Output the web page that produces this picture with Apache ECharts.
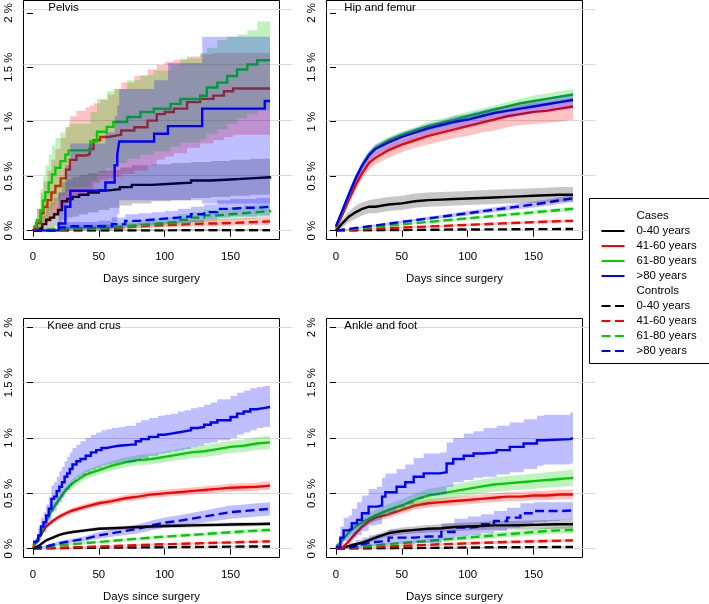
<!DOCTYPE html>
<html><head><meta charset="utf-8">
<script src="https://cdn.jsdelivr.net/npm/echarts@6/dist/echarts.min.js"></script>
<style>html,body{margin:0;padding:0;background:#fff}#c{width:709px;height:604px}</style>
</head><body><div id="c"></div>
<script>
// ---------------- DATA ----------------
const panelTitles = ['Pelvis', 'Hip and femur', 'Knee and crus', 'Ankle and foot'];
const groupNames = ['0-40 years', '41-60 years', '61-80 years', '>80 years'];
const xTicks = [0, 50, 100, 150];
const yTicks = [0, 0.5, 1, 1.5, 2];
const dayGrid = [0,5,10,15,20,25,30,40,50,60,70,80,90,100,110,120,130,140,150,160,170,180];

// Pelvis – cases
const pelvisCase0040Days = [0,5,7,10,13,16,19,22,26,30,35,42,50,58,66,75,90,105,120,135,150,165,180];
const pelvisCase0040 = [0,0.02,0.06,0.1,0.12,0.15,0.19,0.27,0.29,0.31,0.33,0.35,0.37,0.38,0.40,0.42,0.43,0.44,0.46,0.47,0.48,0.49,0.50];
const pelvisCase0040Lo = [0,0,0,0.01,0.02,0.04,0.06,0.1,0.12,0.13,0.15,0.17,0.19,0.21,0.23,0.25,0.27,0.28,0.3,0.31,0.32,0.33,0.34];
const pelvisCase0040Hi = [0,0.06,0.14,0.22,0.26,0.3,0.35,0.45,0.47,0.49,0.51,0.53,0.55,0.56,0.58,0.6,0.61,0.62,0.63,0.64,0.65,0.66,0.67];
const pelvisCase4160Days = [0,1,3,6,8,11,14,17,21,25,28,33,40,43,46,51,57,62,67,77,87,94,100,107,117,127,137,145,152,180];
const pelvisCase4160 = [0,0.02,0.07,0.16,0.22,0.28,0.35,0.41,0.48,0.56,0.65,0.69,0.70,0.75,0.83,0.86,0.87,0.88,0.92,0.95,1.01,1.07,1.09,1.12,1.18,1.21,1.24,1.28,1.305,1.305];
const pelvisCase4160Lo = [0,0,0,0.02,0.05,0.08,0.12,0.16,0.2,0.25,0.3,0.33,0.35,0.38,0.44,0.47,0.48,0.49,0.52,0.55,0.6,0.65,0.68,0.71,0.76,0.8,0.83,0.86,0.88,0.9];
const pelvisCase4160Hi = [0,0.08,0.2,0.35,0.45,0.55,0.65,0.75,0.85,0.95,1.05,1.1,1.13,1.15,1.17,1.2,1.25,1.3,1.36,1.42,1.48,1.52,1.55,1.57,1.6,1.62,1.63,1.63,1.63,1.63];
const pelvisCase6180Days = [0,2,3,5.6,7.6,9.4,11.9,14.4,17,20.8,24.6,27,41.6,43.6,48.6,56,61,71.5,81.6,91.7,104.4,112,127,132,140,147.5,155,162.7,170.3,180];
const pelvisCase6180 = [0.036,0.036,0.096,0.186,0.277,0.352,0.442,0.517,0.577,0.638,0.698,0.737,0.737,0.818,0.908,0.953,0.998,1.044,1.089,1.119,1.164,1.209,1.239,1.314,1.359,1.42,1.48,1.525,1.564,1.564];
const pelvisCase6180Lo = [0,0,0.01,0.04,0.08,0.12,0.18,0.23,0.27,0.32,0.36,0.4,0.4,0.46,0.53,0.57,0.62,0.66,0.7,0.73,0.77,0.81,0.84,0.89,0.93,0.98,1.03,1.07,1.1,1.1];
const pelvisCase6180Hi = [0.05,0.12,0.2,0.38,0.5,0.6,0.7,0.78,0.85,0.9,0.95,0.98,0.98,1.09,1.21,1.28,1.3,1.38,1.43,1.47,1.52,1.58,1.63,1.68,1.75,1.78,1.8,1.84,1.92,1.93];
const pelvisCase80Days = [0,19.5,24.6,28.4,55,62,64,65.5,92,102.5,128.5,176,180];
const pelvisCase80 = [0,0.066,0.22,0.367,0.442,0.6,0.7,0.818,0.89,0.96,1.12,1.19,1.19];
const pelvisCase80Lo = [0,0,0,0.02,0.03,0.08,0.15,0.28,0.28,0.28,0.25,0.25,0.25];
const pelvisCase80Hi = [0,0.35,0.6,0.8,0.9,1.05,1.15,1.3,1.38,1.54,1.78,1.78,1.78];
// Pelvis – controls
const pelvisCtl0040 = [0,0,0,0,0,0.001,0.001,0.001,0.002,0.002,0.002,0.002,0.002,0.003,0.003,0.003,0.003,0.003,0.003,0.003,0.003,0.003];
const pelvisCtl0040Lo = [0,0,0,0,0,0,0,0,0,0,0,0,0,0,0,0,0,0,0,0,0,0];
const pelvisCtl0040Hi = [0,0.004,0.005,0.006,0.007,0.008,0.009,0.01,0.011,0.012,0.012,0.012,0.013,0.013,0.014,0.014,0.014,0.014,0.015,0.015,0.015,0.015];
const pelvisCtl4160 = [0,0.003,0.005,0.008,0.01,0.012,0.015,0.02,0.025,0.03,0.04,0.045,0.05,0.055,0.06,0.065,0.066,0.07,0.075,0.08,0.085,0.088];
const pelvisCtl4160Lo = [0,0,0.001,0.002,0.003,0.004,0.006,0.009,0.012,0.015,0.022,0.025,0.028,0.032,0.036,0.04,0.041,0.044,0.047,0.05,0.053,0.055];
const pelvisCtl4160Hi = [0,0.01,0.015,0.02,0.025,0.03,0.035,0.04,0.048,0.055,0.065,0.072,0.078,0.085,0.09,0.097,0.1,0.105,0.11,0.115,0.12,0.125];
const pelvisCtl6180 = [0,0.005,0.01,0.012,0.015,0.018,0.02,0.02,0.03,0.04,0.05,0.06,0.07,0.08,0.1,0.12,0.14,0.15,0.16,0.17,0.18,0.19];
const pelvisCtl6180Lo = [0,0,0,0,0,0.002,0.003,0.003,0.008,0.013,0.02,0.027,0.033,0.04,0.055,0.07,0.085,0.095,0.1,0.11,0.12,0.13];
const pelvisCtl6180Hi = [0,0.02,0.03,0.035,0.04,0.045,0.05,0.05,0.06,0.075,0.085,0.1,0.11,0.125,0.15,0.17,0.19,0.2,0.215,0.23,0.24,0.25];
const pelvisCtl80 = [0,0,0,0,0.03,0.04,0.04,0.04,0.04,0.06,0.09,0.1,0.11,0.12,0.13,0.15,0.17,0.2,0.21,0.21,0.22,0.22];
const pelvisCtl80Lo = [0,0,0,0,0.005,0.01,0.01,0.01,0.01,0.02,0.04,0.05,0.055,0.06,0.07,0.08,0.1,0.12,0.13,0.13,0.14,0.14];
const pelvisCtl80Hi = [0,0,0,0,0.07,0.08,0.08,0.08,0.09,0.12,0.15,0.16,0.17,0.18,0.2,0.22,0.24,0.28,0.29,0.29,0.3,0.3];

// Hip and femur – cases (on dayGrid)
const hipCase0040 = [0,0.07,0.13,0.17,0.2,0.22,0.22,0.24,0.25,0.27,0.28,0.285,0.29,0.295,0.3,0.305,0.31,0.315,0.32,0.325,0.33,0.33];
const hipCase0040Lo = [0,0.03,0.08,0.11,0.14,0.16,0.16,0.18,0.19,0.21,0.22,0.225,0.23,0.235,0.24,0.245,0.25,0.25,0.255,0.26,0.265,0.265];
const hipCase0040Hi = [0.01,0.11,0.18,0.23,0.26,0.28,0.29,0.31,0.32,0.34,0.35,0.355,0.36,0.365,0.37,0.375,0.38,0.385,0.39,0.395,0.4,0.4];
const hipCase4160 = [0.02,0.15,0.29,0.42,0.53,0.62,0.67,0.74,0.79,0.83,0.87,0.9,0.93,0.96,0.99,1.02,1.05,1.07,1.09,1.1,1.12,1.14];
const hipCase4160Lo = [0.01,0.12,0.25,0.37,0.48,0.56,0.61,0.67,0.72,0.76,0.79,0.82,0.85,0.87,0.9,0.92,0.95,0.97,0.98,0.99,1.0,1.02];
const hipCase4160Hi = [0.03,0.18,0.33,0.46,0.57,0.67,0.72,0.79,0.84,0.88,0.93,0.96,0.99,1.02,1.06,1.09,1.12,1.15,1.17,1.18,1.2,1.22];
const hipCase6180 = [0.03,0.18,0.33,0.48,0.6,0.7,0.76,0.83,0.88,0.92,0.96,0.99,1.02,1.05,1.08,1.11,1.14,1.17,1.19,1.21,1.23,1.25];
const hipCase6180Lo = [0.02,0.16,0.3,0.45,0.57,0.67,0.73,0.8,0.85,0.89,0.92,0.95,0.98,1.01,1.04,1.07,1.1,1.12,1.14,1.16,1.18,1.2];
const hipCase6180Hi = [0.04,0.2,0.36,0.51,0.63,0.73,0.79,0.86,0.91,0.95,1.0,1.03,1.06,1.09,1.12,1.15,1.18,1.21,1.24,1.26,1.28,1.3];
const hipCase80 = [0.04,0.19,0.34,0.48,0.6,0.69,0.75,0.81,0.86,0.9,0.94,0.97,1.0,1.02,1.05,1.08,1.1,1.12,1.14,1.16,1.18,1.2];
const hipCase80Lo = [0.03,0.16,0.3,0.43,0.55,0.63,0.69,0.75,0.8,0.84,0.88,0.91,0.94,0.96,0.99,1.02,1.04,1.06,1.08,1.1,1.11,1.13];
const hipCase80Hi = [0.05,0.22,0.38,0.52,0.64,0.73,0.79,0.85,0.9,0.94,0.98,1.01,1.05,1.07,1.1,1.13,1.15,1.18,1.2,1.22,1.24,1.26];
// Hip and femur – controls
const hipCtl0040 = [0,0.001,0.002,0.002,0.003,0.003,0.004,0.005,0.006,0.007,0.008,0.009,0.01,0.01,0.011,0.012,0.012,0.013,0.014,0.014,0.015,0.015];
const hipCtl0040Lo = [0,0,0,0,0.001,0.001,0.002,0.003,0.004,0.005,0.006,0.007,0.008,0.008,0.009,0.01,0.01,0.011,0.011,0.012,0.012,0.012];
const hipCtl0040Hi = [0,0.002,0.004,0.004,0.005,0.005,0.006,0.007,0.008,0.009,0.01,0.011,0.012,0.012,0.013,0.014,0.014,0.015,0.016,0.016,0.018,0.018];
const hipCtl4160 = [0,0.003,0.006,0.009,0.012,0.015,0.018,0.023,0.028,0.033,0.038,0.043,0.048,0.053,0.058,0.063,0.068,0.073,0.078,0.083,0.087,0.09];
const hipCtl4160Lo = [0,0.001,0.003,0.005,0.008,0.01,0.012,0.017,0.021,0.025,0.03,0.034,0.039,0.043,0.047,0.052,0.056,0.061,0.065,0.069,0.073,0.076];
const hipCtl4160Hi = [0,0.005,0.009,0.013,0.017,0.02,0.024,0.03,0.035,0.041,0.047,0.052,0.058,0.063,0.069,0.074,0.08,0.085,0.091,0.097,0.101,0.104];
const hipCtl6180 = [0,0.006,0.012,0.018,0.024,0.03,0.036,0.047,0.058,0.069,0.08,0.091,0.102,0.113,0.124,0.135,0.146,0.157,0.168,0.179,0.19,0.2];
const hipCtl6180Lo = [0,0.004,0.009,0.014,0.019,0.024,0.03,0.04,0.05,0.06,0.07,0.08,0.09,0.1,0.111,0.121,0.131,0.141,0.151,0.161,0.171,0.18];
const hipCtl6180Hi = [0,0.008,0.015,0.022,0.029,0.036,0.042,0.054,0.066,0.078,0.09,0.102,0.114,0.126,0.137,0.149,0.161,0.173,0.185,0.197,0.209,0.22];
const hipCtl80 = [0,0.008,0.016,0.024,0.032,0.04,0.048,0.064,0.08,0.096,0.112,0.128,0.144,0.16,0.176,0.192,0.208,0.224,0.24,0.258,0.278,0.298];
const hipCtl80Lo = [0,0.005,0.012,0.019,0.026,0.033,0.04,0.054,0.068,0.083,0.097,0.112,0.126,0.14,0.155,0.17,0.184,0.199,0.213,0.229,0.248,0.266];
const hipCtl80Hi = [0,0.011,0.02,0.029,0.038,0.047,0.056,0.074,0.092,0.109,0.127,0.144,0.162,0.18,0.197,0.214,0.232,0.249,0.267,0.287,0.308,0.33];

// Knee and crus – cases
const kneeCase0040 = [0,0.03,0.075,0.1,0.125,0.14,0.15,0.165,0.18,0.185,0.19,0.195,0.2,0.205,0.207,0.21,0.213,0.215,0.218,0.22,0.222,0.225];
const kneeCase0040Lo = [0,0.022,0.063,0.087,0.111,0.126,0.135,0.15,0.164,0.169,0.174,0.178,0.183,0.188,0.19,0.192,0.195,0.197,0.2,0.201,0.203,0.206];
const kneeCase0040Hi = [0,0.038,0.087,0.113,0.139,0.154,0.165,0.18,0.196,0.201,0.206,0.212,0.217,0.222,0.224,0.228,0.231,0.233,0.236,0.239,0.241,0.244];
const kneeCase4160 = [0.01,0.11,0.2,0.25,0.29,0.32,0.345,0.38,0.41,0.43,0.455,0.47,0.49,0.5,0.51,0.52,0.53,0.54,0.55,0.555,0.56,0.57];
const kneeCase4160Lo = [0.005,0.095,0.182,0.23,0.268,0.297,0.32,0.354,0.383,0.402,0.426,0.44,0.459,0.468,0.477,0.487,0.496,0.505,0.514,0.518,0.523,0.532];
const kneeCase4160Hi = [0.015,0.125,0.218,0.27,0.312,0.343,0.37,0.406,0.437,0.458,0.484,0.5,0.521,0.532,0.543,0.553,0.564,0.575,0.586,0.592,0.597,0.608];
const kneeCase6180 = [0.03,0.11,0.25,0.36,0.45,0.53,0.59,0.67,0.71,0.75,0.78,0.8,0.81,0.83,0.85,0.87,0.88,0.9,0.92,0.93,0.95,0.96];
const kneeCase6180Lo = [0.02,0.095,0.225,0.33,0.418,0.495,0.553,0.63,0.669,0.707,0.735,0.754,0.763,0.781,0.799,0.818,0.826,0.845,0.864,0.873,0.891,0.9];
const kneeCase6180Hi = [0.04,0.125,0.275,0.39,0.482,0.565,0.627,0.71,0.751,0.793,0.825,0.846,0.857,0.879,0.901,0.922,0.934,0.955,0.976,0.987,1.009,1.02];
const kneeCase80Days = [0,2,4,6,8,10,12,14,16,18,20,22,24,26,28,30,33,36,40,44,48,52,56,60,65,70,75,78,82,88,95,100,105,110,115,120,125,130,135,140,145,150,155,160,165,170,175,180];
const kneeCase80 = [0.06,0.07,0.12,0.2,0.24,0.3,0.36,0.45,0.47,0.52,0.56,0.6,0.65,0.68,0.72,0.76,0.79,0.81,0.84,0.87,0.89,0.91,0.92,0.93,0.935,0.94,0.94,0.97,0.99,1.01,1.03,1.04,1.05,1.06,1.07,1.09,1.1,1.12,1.14,1.16,1.16,1.19,1.22,1.24,1.26,1.27,1.28,1.28];
const kneeCase80Lo = [0.04,0.04,0.07,0.12,0.15,0.2,0.25,0.33,0.34,0.39,0.42,0.46,0.51,0.53,0.57,0.61,0.64,0.66,0.69,0.71,0.73,0.75,0.76,0.77,0.78,0.78,0.78,0.8,0.82,0.84,0.86,0.87,0.88,0.89,0.9,0.92,0.93,0.95,0.96,0.98,0.98,1.0,1.03,1.05,1.07,1.09,1.1,1.1];
const kneeCase80Hi = [0.08,0.1,0.18,0.28,0.33,0.4,0.47,0.57,0.6,0.65,0.7,0.74,0.79,0.83,0.87,0.91,0.94,0.97,1.0,1.03,1.05,1.07,1.08,1.09,1.1,1.11,1.11,1.14,1.16,1.18,1.2,1.21,1.22,1.24,1.25,1.27,1.28,1.3,1.32,1.35,1.35,1.38,1.41,1.43,1.45,1.46,1.47,1.47];
// Knee and crus – controls
const kneeCtl0040 = [0,0.001,0.002,0.003,0.004,0.005,0.006,0.007,0.008,0.009,0.01,0.011,0.012,0.013,0.014,0.015,0.016,0.017,0.018,0.019,0.02,0.02];
const kneeCtl0040Lo = [0,0,0,0,0.001,0.002,0.002,0.003,0.004,0.005,0.006,0.007,0.007,0.008,0.009,0.01,0.011,0.012,0.013,0.013,0.014,0.014];
const kneeCtl0040Hi = [0,0.002,0.004,0.006,0.007,0.008,0.01,0.011,0.012,0.013,0.014,0.015,0.017,0.018,0.019,0.02,0.021,0.022,0.023,0.025,0.026,0.026];
const kneeCtl4160 = [0,0.002,0.004,0.006,0.008,0.01,0.012,0.016,0.02,0.024,0.028,0.032,0.036,0.04,0.043,0.046,0.05,0.053,0.056,0.06,0.063,0.066];
const kneeCtl4160Lo = [0,0.001,0.002,0.003,0.005,0.006,0.008,0.011,0.014,0.018,0.021,0.024,0.028,0.031,0.034,0.037,0.04,0.043,0.046,0.049,0.052,0.055];
const kneeCtl4160Hi = [0,0.003,0.006,0.009,0.011,0.014,0.016,0.021,0.026,0.03,0.035,0.04,0.044,0.049,0.052,0.055,0.06,0.063,0.066,0.071,0.074,0.077];
const kneeCtl6180 = [0,0.01,0.02,0.025,0.03,0.035,0.04,0.05,0.06,0.07,0.08,0.09,0.1,0.108,0.116,0.124,0.132,0.14,0.148,0.156,0.163,0.17];
const kneeCtl6180Lo = [0,0.006,0.014,0.019,0.023,0.028,0.032,0.041,0.05,0.059,0.068,0.077,0.087,0.094,0.102,0.109,0.117,0.124,0.131,0.138,0.145,0.151];
const kneeCtl6180Hi = [0,0.014,0.026,0.031,0.037,0.042,0.048,0.059,0.07,0.081,0.092,0.103,0.113,0.122,0.13,0.139,0.147,0.156,0.165,0.174,0.181,0.189];
const kneeCtl80 = [0,0.01,0.02,0.035,0.05,0.06,0.07,0.09,0.12,0.14,0.16,0.18,0.21,0.235,0.25,0.27,0.29,0.31,0.33,0.34,0.35,0.36];
const kneeCtl80Lo = [0,0.003,0.01,0.022,0.033,0.042,0.05,0.066,0.09,0.107,0.124,0.14,0.166,0.188,0.2,0.218,0.236,0.253,0.27,0.28,0.29,0.3];
const kneeCtl80Hi = [0,0.017,0.03,0.048,0.067,0.078,0.09,0.114,0.15,0.173,0.196,0.22,0.254,0.282,0.3,0.322,0.344,0.367,0.39,0.4,0.41,0.42];

// Ankle and foot – cases
const ankleCase0040 = [0,0.01,0.025,0.04,0.055,0.075,0.1,0.14,0.16,0.17,0.18,0.185,0.195,0.2,0.205,0.21,0.21,0.212,0.215,0.218,0.22,0.22];
const ankleCase0040Lo = [0,0.004,0.015,0.026,0.038,0.054,0.075,0.11,0.128,0.137,0.146,0.15,0.159,0.163,0.167,0.171,0.171,0.172,0.175,0.177,0.179,0.179];
const ankleCase0040Hi = [0,0.016,0.035,0.054,0.072,0.096,0.125,0.17,0.192,0.203,0.214,0.22,0.231,0.237,0.243,0.249,0.249,0.252,0.255,0.259,0.261,0.261];
const ankleCase4160 = [0,0.01,0.07,0.14,0.2,0.25,0.28,0.31,0.35,0.39,0.41,0.42,0.43,0.44,0.45,0.46,0.47,0.47,0.48,0.48,0.49,0.49];
const ankleCase4160Lo = [0,0.003,0.05,0.115,0.172,0.22,0.248,0.277,0.315,0.354,0.373,0.383,0.392,0.401,0.41,0.419,0.428,0.428,0.437,0.437,0.446,0.446];
const ankleCase4160Hi = [0,0.017,0.09,0.165,0.228,0.28,0.312,0.343,0.385,0.426,0.447,0.457,0.468,0.479,0.49,0.501,0.512,0.512,0.523,0.523,0.534,0.534];
const ankleCase6180 = [0.015,0.08,0.15,0.2,0.24,0.27,0.3,0.35,0.39,0.44,0.48,0.5,0.52,0.54,0.56,0.58,0.59,0.6,0.61,0.62,0.63,0.64];
const ankleCase6180Lo = [0.005,0.05,0.11,0.155,0.193,0.222,0.25,0.297,0.335,0.383,0.421,0.44,0.459,0.477,0.496,0.515,0.524,0.533,0.542,0.55,0.559,0.568];
const ankleCase6180Hi = [0.025,0.11,0.19,0.245,0.287,0.318,0.35,0.403,0.445,0.497,0.539,0.56,0.581,0.603,0.624,0.645,0.656,0.667,0.678,0.69,0.701,0.712];
const ankleCase80Days = [0,3.3,5.8,9.6,12,16,19.7,24.8,31,35,37.5,46,52.6,59,66.6,79,84,89,97,104.5,112,122,132,142.5,152.6,157.7,178,180];
const ankleCase80 = [0.015,0.1,0.165,0.18,0.23,0.26,0.32,0.38,0.39,0.47,0.51,0.56,0.6,0.65,0.68,0.69,0.77,0.81,0.84,0.86,0.87,0.89,0.92,0.95,0.98,0.99,1.0,1.0];
const ankleCase80Lo = [0,0.03,0.07,0.08,0.1,0.12,0.16,0.21,0.22,0.29,0.32,0.37,0.4,0.45,0.48,0.49,0.56,0.6,0.62,0.64,0.65,0.67,0.69,0.72,0.75,0.76,0.77,0.77];
const ankleCase80Hi = [0.04,0.2,0.28,0.3,0.36,0.42,0.48,0.54,0.56,0.64,0.68,0.72,0.76,0.82,0.86,0.87,0.96,1.0,1.04,1.06,1.09,1.11,1.14,1.17,1.2,1.21,1.23,1.24];
// Ankle and foot – controls
const ankleCtl0040 = [0,0,0.001,0.001,0.002,0.002,0.003,0.004,0.005,0.006,0.007,0.008,0.009,0.01,0.011,0.012,0.012,0.013,0.014,0.014,0.015,0.015];
const ankleCtl0040Lo = [0,0,0,0,0,0,0,0.001,0.001,0.002,0.002,0.003,0.004,0.005,0.006,0.006,0.006,0.007,0.008,0.008,0.009,0.009];
const ankleCtl0040Hi = [0,0.002,0.003,0.004,0.005,0.006,0.007,0.008,0.009,0.01,0.012,0.013,0.014,0.015,0.016,0.018,0.018,0.019,0.02,0.02,0.021,0.021];
const ankleCtl4160 = [0,0.003,0.006,0.008,0.01,0.012,0.015,0.02,0.025,0.03,0.035,0.04,0.044,0.048,0.052,0.056,0.06,0.063,0.066,0.069,0.072,0.075];
const ankleCtl4160Lo = [0,0.001,0.002,0.004,0.005,0.007,0.009,0.013,0.017,0.021,0.025,0.029,0.033,0.036,0.04,0.043,0.047,0.05,0.052,0.055,0.058,0.06];
const ankleCtl4160Hi = [0,0.005,0.01,0.012,0.015,0.017,0.021,0.027,0.033,0.039,0.045,0.051,0.055,0.06,0.064,0.069,0.073,0.076,0.08,0.083,0.086,0.09];
const ankleCtl6180 = [0,0.005,0.01,0.015,0.02,0.025,0.03,0.04,0.05,0.06,0.07,0.08,0.09,0.1,0.11,0.12,0.13,0.14,0.15,0.16,0.165,0.17];
const ankleCtl6180Lo = [0,0.002,0.005,0.008,0.012,0.015,0.019,0.027,0.035,0.044,0.052,0.061,0.07,0.078,0.087,0.096,0.104,0.113,0.122,0.13,0.134,0.138];
const ankleCtl6180Hi = [0,0.008,0.015,0.022,0.028,0.035,0.041,0.053,0.065,0.076,0.088,0.099,0.11,0.122,0.133,0.144,0.156,0.167,0.178,0.19,0.196,0.202];
const ankleCtl80 = [0,0.01,0.02,0.04,0.05,0.06,0.07,0.1,0.1,0.11,0.11,0.15,0.19,0.2,0.22,0.25,0.28,0.32,0.34,0.34,0.345,0.345];
const ankleCtl80Lo = [0,0,0.003,0.012,0.018,0.023,0.028,0.045,0.045,0.05,0.05,0.08,0.11,0.12,0.14,0.16,0.19,0.22,0.24,0.25,0.26,0.26];
const ankleCtl80Hi = [0,0.03,0.05,0.08,0.1,0.12,0.13,0.17,0.17,0.18,0.18,0.23,0.27,0.29,0.31,0.34,0.37,0.41,0.42,0.42,0.42,0.42];

// ---------------- BUILD ----------------
function S(days, val, lo, hi, step) { return { days: days, val: val, lo: lo, hi: hi, step: step }; }
const panelData = [
  { controls: [S(dayGrid, pelvisCtl0040, pelvisCtl0040Lo, pelvisCtl0040Hi, true), S(dayGrid, pelvisCtl4160, pelvisCtl4160Lo, pelvisCtl4160Hi, true), S(dayGrid, pelvisCtl6180, pelvisCtl6180Lo, pelvisCtl6180Hi, true), S(dayGrid, pelvisCtl80, pelvisCtl80Lo, pelvisCtl80Hi, true)],
    cases: [S(pelvisCase0040Days, pelvisCase0040, pelvisCase0040Lo, pelvisCase0040Hi, true), S(pelvisCase4160Days, pelvisCase4160, pelvisCase4160Lo, pelvisCase4160Hi, true), S(pelvisCase6180Days, pelvisCase6180, pelvisCase6180Lo, pelvisCase6180Hi, true), S(pelvisCase80Days, pelvisCase80, pelvisCase80Lo, pelvisCase80Hi, true)] },
  { controls: [S(dayGrid, hipCtl0040, hipCtl0040Lo, hipCtl0040Hi, false), S(dayGrid, hipCtl4160, hipCtl4160Lo, hipCtl4160Hi, false), S(dayGrid, hipCtl6180, hipCtl6180Lo, hipCtl6180Hi, false), S(dayGrid, hipCtl80, hipCtl80Lo, hipCtl80Hi, false)],
    cases: [S(dayGrid, hipCase0040, hipCase0040Lo, hipCase0040Hi, false), S(dayGrid, hipCase4160, hipCase4160Lo, hipCase4160Hi, false), S(dayGrid, hipCase6180, hipCase6180Lo, hipCase6180Hi, false), S(dayGrid, hipCase80, hipCase80Lo, hipCase80Hi, false)] },
  { controls: [S(dayGrid, kneeCtl0040, kneeCtl0040Lo, kneeCtl0040Hi, false), S(dayGrid, kneeCtl4160, kneeCtl4160Lo, kneeCtl4160Hi, false), S(dayGrid, kneeCtl6180, kneeCtl6180Lo, kneeCtl6180Hi, false), S(dayGrid, kneeCtl80, kneeCtl80Lo, kneeCtl80Hi, false)],
    cases: [S(dayGrid, kneeCase0040, kneeCase0040Lo, kneeCase0040Hi, false), S(dayGrid, kneeCase4160, kneeCase4160Lo, kneeCase4160Hi, false), S(dayGrid, kneeCase6180, kneeCase6180Lo, kneeCase6180Hi, false), S(kneeCase80Days, kneeCase80, kneeCase80Lo, kneeCase80Hi, true)] },
  { controls: [S(dayGrid, ankleCtl0040, ankleCtl0040Lo, ankleCtl0040Hi, false), S(dayGrid, ankleCtl4160, ankleCtl4160Lo, ankleCtl4160Hi, false), S(dayGrid, ankleCtl6180, ankleCtl6180Lo, ankleCtl6180Hi, false), S(dayGrid, ankleCtl80, ankleCtl80Lo, ankleCtl80Hi, true)],
    cases: [S(dayGrid, ankleCase0040, ankleCase0040Lo, ankleCase0040Hi, false), S(dayGrid, ankleCase4160, ankleCase4160Lo, ankleCase4160Hi, false), S(dayGrid, ankleCase6180, ankleCase6180Lo, ankleCase6180Hi, false), S(ankleCase80Days, ankleCase80, ankleCase80Lo, ankleCase80Hi, true)] }
];

const FONT = '"Liberation Sans", Arial, Helvetica, sans-serif';
const FS = 11.4;
const lineColors = ['#000000', '#ff0000', '#00cd00', '#0000ff'];
const bandColors = ['rgba(0,0,0,0.22)', 'rgba(255,0,0,0.24)', 'rgba(0,205,0,0.25)', 'rgba(0,0,255,0.25)'];
const layout = [
  { bl: 23.5, bt: 0.5, tx: 24.8 },
  { bl: 326.5, bt: 0.5, tx: 17.8 },
  { bl: 23.5, bt: 318.5, tx: 23.8 },
  { bl: 326.5, bt: 318.5, tx: 17.8 }
];
const BOXW = 256, BOXH = 239, XMIN = 0, XMAX = 180, YMIN = 0, YMAX = 2;
const XPAD = (XMAX - XMIN) * 0.04, YPAD = (YMAX - YMIN) * 0.04;

const grid = [], xAxis = [], yAxis = [], series = [], title = [];

function bandSeries(s, axisIdx, color) {
  return {
    type: 'custom', xAxisIndex: axisIdx, yAxisIndex: axisIdx, silent: true,
    data: [[s.days[0], s.val[0]]],
    renderItem: function (params, api) {
      const up = [], dn = [];
      for (let i = 0; i < s.days.length; i++) {
        if (s.step && i > 0) {
          up.push(api.coord([s.days[i], s.hi[i - 1]]));
          dn.push(api.coord([s.days[i], s.lo[i - 1]]));
        }
        up.push(api.coord([s.days[i], s.hi[i]]));
        dn.push(api.coord([s.days[i], s.lo[i]]));
      }
      return { type: 'polygon', shape: { points: up.concat(dn.reverse()) }, style: { fill: color } };
    }
  };
}
function lineSeries(s, axisIdx, name, color, dashed) {
  return {
    type: 'line', name: name, xAxisIndex: axisIdx, yAxisIndex: axisIdx, silent: true,
    data: s.days.map(function (d, i) { return [d, s.val[i]]; }),
    step: s.step ? 'end' : false, symbol: 'none', showSymbol: false,
    itemStyle: { color: color },
    lineStyle: { color: color, width: 2.4, type: dashed ? [9, 4.5] : 'solid', cap: 'butt', join: 'miter' }
  };
}
function addSeries(obj) { obj.z = 2 + series.length; series.push(obj); }

layout.forEach(function (L, p) {
  const sx = BOXW / (XMAX - XMIN + 2 * XPAD), sy = BOXH / (YMAX - YMIN + 2 * YPAD);
  const dl = L.bl + XPAD * sx, dw = (XMAX - XMIN) * sx;
  const dt = L.bt + YPAD * sy, dh = (YMAX - YMIN) * sy;
  const gi = grid.length;
  // gridline layer
  grid.push({ left: L.bl, top: dt, width: BOXW + 13, height: dh, show: false });
  xAxis.push({ gridIndex: gi, type: 'value', show: false, min: 0, max: 1 });
  yAxis.push({ gridIndex: gi, type: 'value', min: YMIN, max: YMAX, interval: 0.5,
    axisLine: { show: false }, axisTick: { show: false }, axisLabel: { show: false },
    splitLine: { show: true, lineStyle: { color: '#d9d9d9', width: 1 } } });
  // data layer
  grid.push({ left: dl, top: dt, width: dw, height: dh, show: false });
  xAxis.push({ gridIndex: gi + 1, type: 'value', min: XMIN, max: XMAX, interval: 50, position: 'bottom',
    offset: YPAD * sy,
    axisLine: { show: false },
    axisTick: { show: true, customValues: xTicks, length: 6, lineStyle: { color: '#000', width: 1 } },
    axisLabel: { customValues: xTicks, margin: 12, fontSize: FS, color: '#000', fontFamily: FONT },
    splitLine: { show: false },
    name: 'Days since surgery', nameLocation: 'middle', nameGap: 34,
    nameTextStyle: { fontSize: FS, color: '#000', fontFamily: FONT } });
  yAxis.push({ gridIndex: gi + 1, type: 'value', min: YMIN, max: YMAX, interval: 0.5, position: 'left',
    offset: XPAD * sx,
    axisLine: { show: false },
    axisTick: { show: true, customValues: yTicks, length: 6, lineStyle: { color: '#000', width: 1 } },
    axisLabel: { customValues: yTicks, rotate: 90, margin: 9, fontSize: FS, color: '#000', fontFamily: FONT,
      formatter: function (v) { return v + ' %'; } },
    splitLine: { show: false } });
  // box layer
  grid.push({ left: L.bl, top: L.bt, width: BOXW, height: BOXH, show: true, borderColor: '#000', borderWidth: 1, backgroundColor: 'transparent' });
  xAxis.push({ gridIndex: gi + 2, type: 'value', show: false, min: 0, max: 1 });
  yAxis.push({ gridIndex: gi + 2, type: 'value', show: false, min: 0, max: 1 });

  title.push({ text: panelTitles[p], left: L.bl + L.tx, top: L.bt + 2.3, padding: 0, z: 500,
    textStyle: { fontSize: FS, fontWeight: 'normal', color: '#000', fontFamily: FONT } });

  const pd = panelData[p];
  pd.controls.forEach(function (s, g) {
    addSeries(bandSeries(s, gi + 1, bandColors[g]));
    addSeries(lineSeries(s, gi + 1, groupNames[g] + ' ', lineColors[g], true));
  });
  pd.cases.forEach(function (s, g) {
    addSeries(bandSeries(s, gi + 1, bandColors[g]));
    addSeries(lineSeries(s, gi + 1, groupNames[g], lineColors[g], false));
  });
});

// legend header entries
['Cases', 'Controls'].forEach(function (h) {
  addSeries({ type: 'line', name: h, xAxisIndex: 1, yAxisIndex: 1, data: [], symbol: 'none',
    itemStyle: { color: 'rgba(0,0,0,0)' }, lineStyle: { opacity: 0 } });
});

const legendData = ['Cases'].concat(groupNames, ['Controls'], groupNames.map(function (n) { return n + ' '; }));

const chart = echarts.init(document.getElementById('c'), null, { renderer: 'canvas' });
chart.setOption({
  animation: false,
  backgroundColor: '#ffffff',
  textStyle: { fontFamily: FONT },
  title: title,
  grid: grid, xAxis: xAxis, yAxis: yAxis,
  legend: {
    orient: 'vertical', left: 589.5, top: 198.5, z: 500,
    padding: [12, 60, 7, 11], itemGap: 4, itemWidth: 23, itemHeight: 13,
    borderColor: '#000', borderWidth: 1, backgroundColor: '#fff',
    selectedMode: false, itemStyle: { opacity: 0 },
    textStyle: { fontSize: FS, color: '#000', fontFamily: FONT, padding: [0, 0, 0, 7] },
    data: legendData
  },
  series: series
});
</script></body></html>
